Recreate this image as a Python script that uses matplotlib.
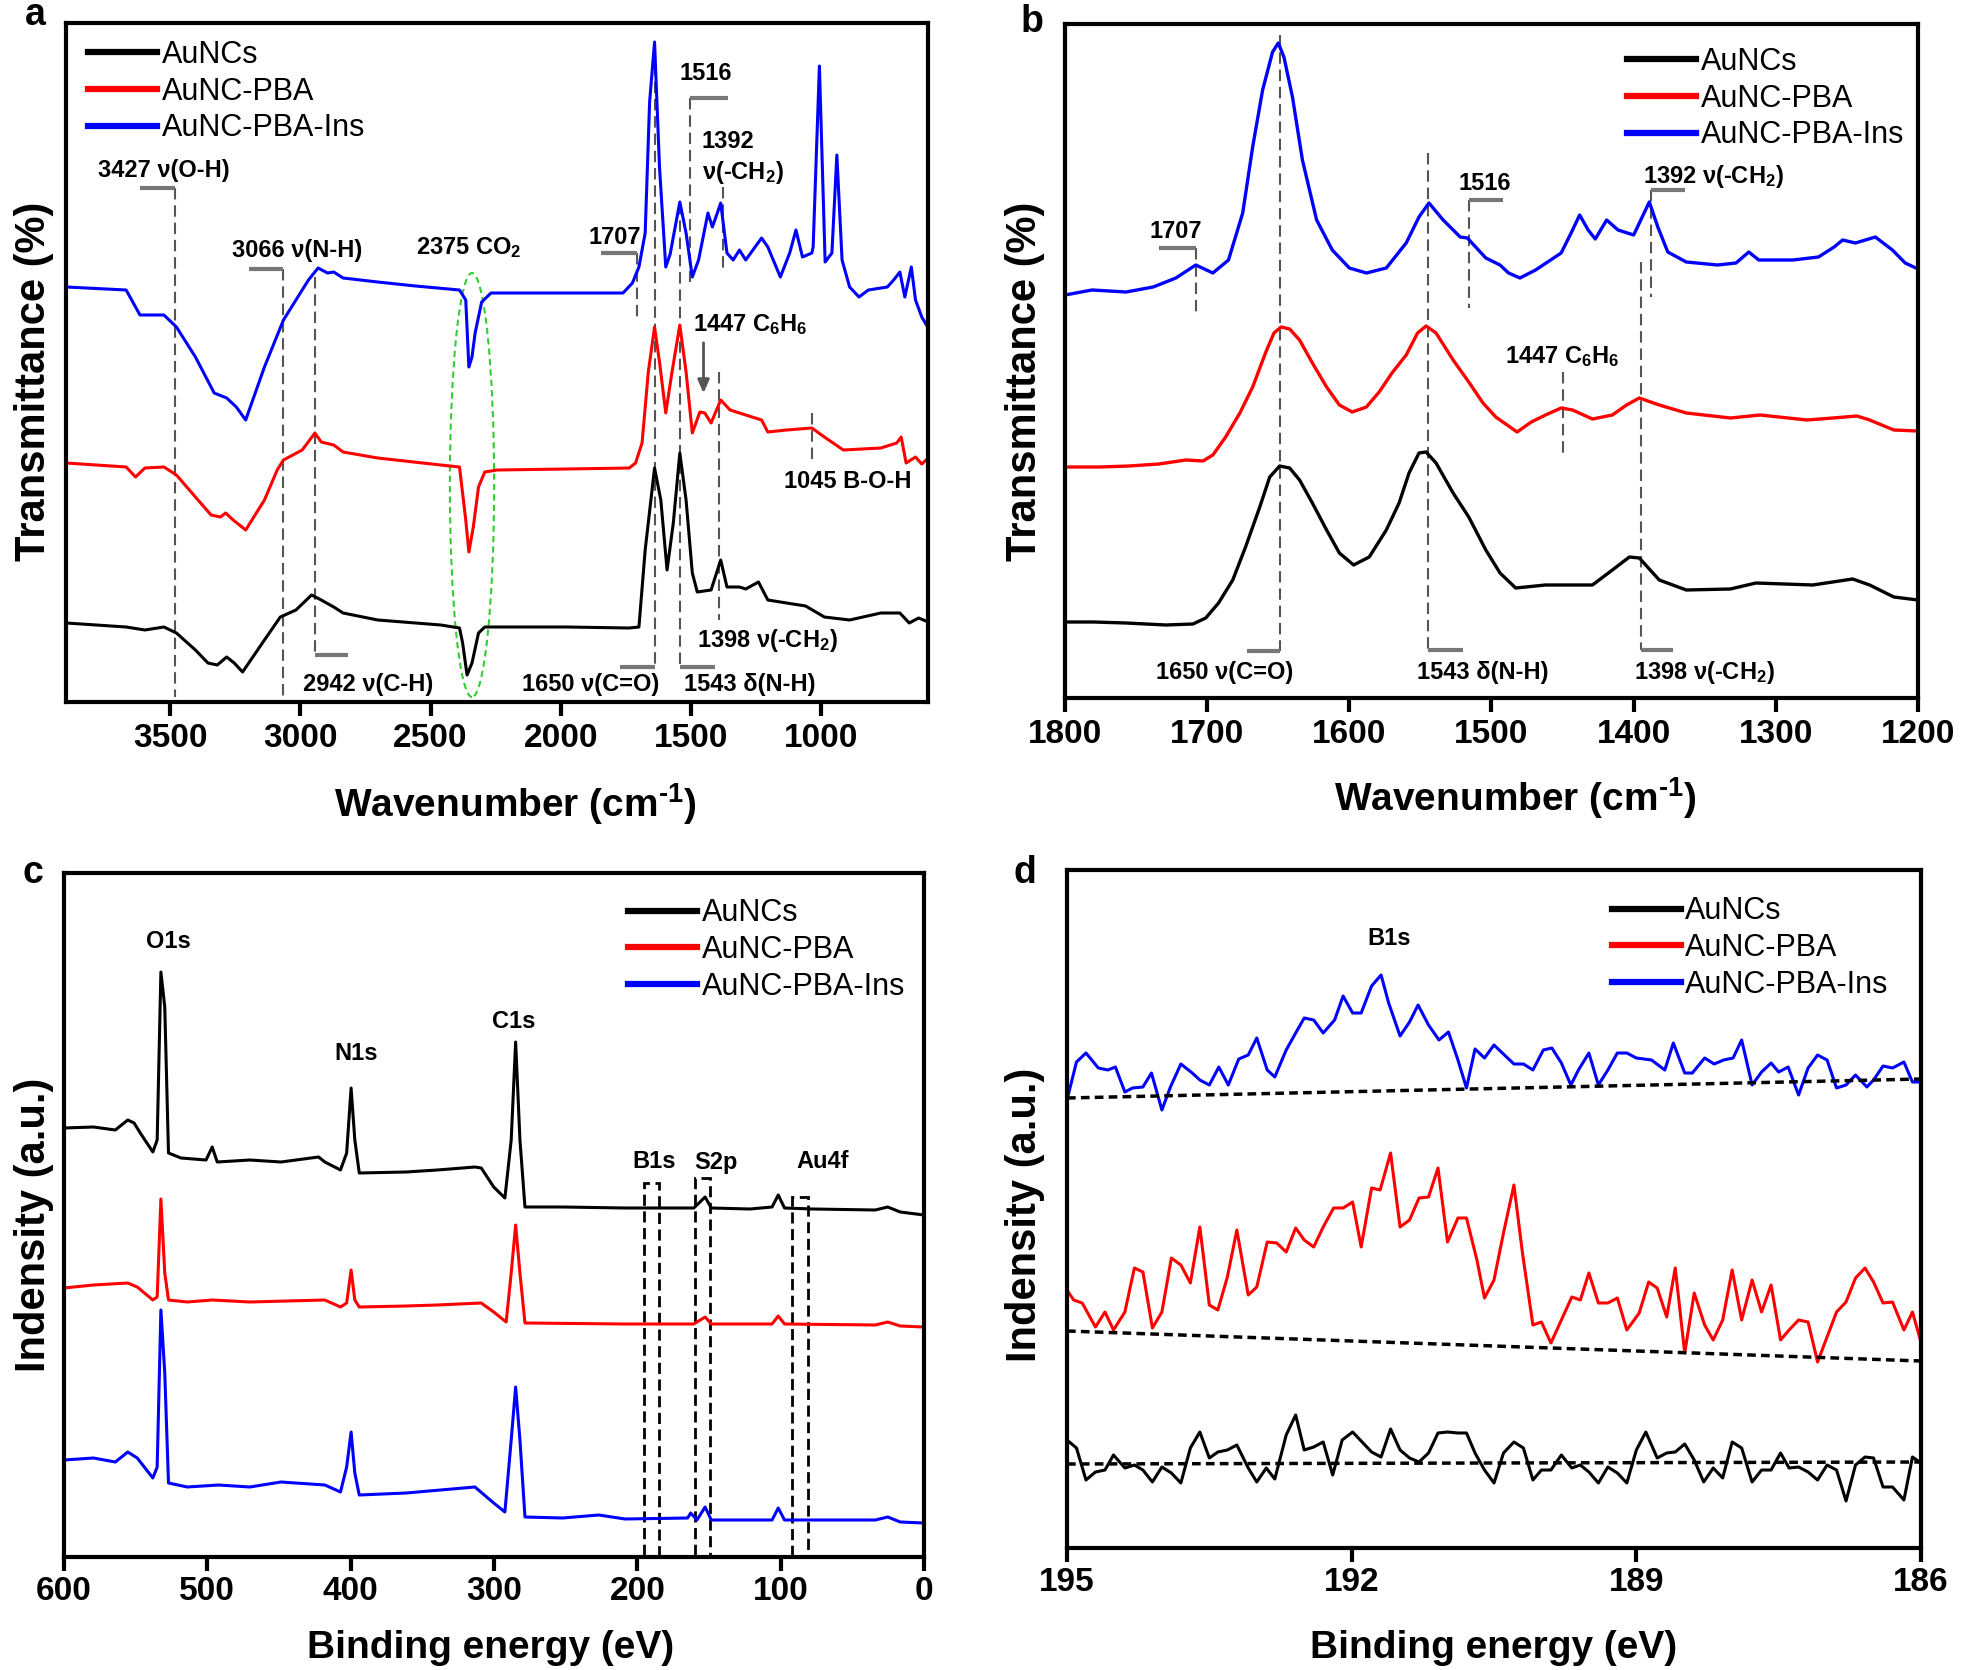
import numpy as np
import matplotlib.pyplot as plt
from matplotlib.patches import Ellipse, Rectangle

plt.rcParams['font.family'] = ['Liberation Sans', 'DejaVu Sans']
plt.rcParams['mathtext.fontset'] = 'custom'
plt.rcParams['mathtext.rm'] = 'Liberation Sans'
plt.rcParams['mathtext.bf'] = 'Liberation Sans:bold'
plt.rcParams['mathtext.it'] = 'Liberation Sans:italic'

names = ["AuNCs", "AuNC-PBA", "AuNC-PBA-Ins"]
colors = ["black", "#ff0000", "#0000ff"]

# ---- panel a: FTIR full range (offset transmittance, a.u.)
wn_a_black = [3899, 3669, 3597, 3524, 3476, 3403, 3355, 3319, 3283, 3254, 3222, 3138, 3077, 3017, 2957, 2920,
              2872, 2836, 2703, 2461, 2389, 2377, 2360, 2341, 2316, 2292, 2220, 1978, 1737, 1700, 1676, 1640,
              1616, 1592, 1568, 1543, 1519, 1495, 1476, 1423, 1386, 1362, 1314, 1290, 1241, 1205, 1133, 1060,
              988, 891, 771, 698, 662, 626, 589]
t_a_black = [79, 75, 72, 75, 69, 52, 39, 37, 45, 39, 30, 62, 85, 92, 107, 102, 95, 89, 82, 77, 74, 59, 27, 39,
             69, 75, 75, 75, 74, 75, 152, 234, 202, 132, 179, 249, 202, 129, 110, 112, 142, 115, 115, 113, 120,
             102, 99, 96, 85, 82, 89, 89, 79, 84, 80]
wn_a_red = [3899, 3669, 3633, 3597, 3524, 3476, 3403, 3343, 3307, 3287, 3258, 3210, 3138, 3089, 3065, 2993, 2944,
            2920, 2872, 2836, 2703, 2461, 2389, 2365, 2353, 2336, 2316, 2292, 2244, 1978, 1737, 1713, 1688, 1664,
            1640, 1621, 1597, 1573, 1543, 1519, 1495, 1466, 1447, 1423, 1386, 1350, 1302, 1229, 1205, 1133, 1036,
            988, 915, 771, 710, 693, 674, 638, 614, 589]
t_a_red = [239, 235, 225, 234, 235, 227, 205, 187, 185, 189, 182, 172, 202, 232, 242, 252, 269, 260, 257, 250,
           244, 237, 235, 182, 150, 175, 215, 230, 232, 233, 234, 239, 259, 330, 375, 340, 289, 330, 377, 330,
           269, 290, 289, 279, 302, 292, 288, 282, 270, 272, 274, 265, 252, 254, 259, 265, 239, 245, 238, 244]
wn_a_blue = [3899, 3669, 3633, 3616, 3524, 3476, 3403, 3331, 3283, 3246, 3210, 3138, 3065, 2969, 2932, 2896,
             2872, 2836, 2703, 2558, 2389, 2365, 2353, 2341, 2329, 2304, 2268, 1978, 1761, 1725, 1700, 1676,
             1659, 1640, 1621, 1597, 1580, 1543, 1519, 1495, 1471, 1435, 1418, 1399, 1386, 1362, 1338, 1314,
             1290, 1229, 1205, 1157, 1121, 1097, 1072, 1036, 1031, 1007, 985, 959, 940, 920, 891, 855, 819,
             746, 722, 698, 679, 654, 638, 614, 589]
t_a_blue = [415, 412, 395, 387, 387, 375, 345, 309, 304, 295, 282, 335, 382, 422, 434, 429, 430, 424, 420, 416,
            412, 402, 335, 345, 369, 400, 409, 409, 409, 419, 435, 469, 600, 660, 535, 435, 448, 500, 469, 425,
            442, 489, 475, 489, 499, 449, 442, 452, 442, 464, 455, 425, 449, 472, 445, 449, 455, 636, 440, 449,
            547, 442, 415, 405, 412, 415, 422, 430, 405, 435, 402, 385, 374]

# ---- panel b: FTIR 1800-1200
wn_b_black = [1800, 1780, 1757, 1729, 1710, 1701, 1692, 1682, 1673, 1663, 1656, 1649, 1642, 1635, 1626, 1616,
              1607, 1597, 1586, 1574, 1565, 1558, 1551, 1546, 1539, 1527, 1516, 1504, 1494, 1483, 1462, 1429,
              1415, 1403, 1396, 1382, 1363, 1332, 1314, 1274, 1246, 1234, 1217, 1200]
t_b_black = [76, 76, 75, 73, 74, 80, 95, 118, 151, 191, 221, 232, 230, 218, 195, 168, 145, 133, 141, 168,
             195, 225, 245, 246, 235, 205, 181, 148, 125, 110, 113, 113, 128, 141, 140, 118, 108, 109, 115, 113,
             119, 113, 101, 98]
wn_b_red = [1800, 1776, 1755, 1734, 1715, 1703, 1696, 1687, 1677, 1668, 1659, 1653, 1648, 1642, 1635, 1626, 1616,
            1607, 1598, 1588, 1579, 1570, 1560, 1552, 1546, 1539, 1527, 1516, 1506, 1497, 1482, 1472, 1462, 1451,
            1443, 1429, 1415, 1405, 1396, 1382, 1363, 1332, 1311, 1278, 1260, 1243, 1234, 1217, 1200]
t_b_red = [231, 231, 232, 234, 238, 237, 243, 261, 285, 311, 345, 365, 371, 369, 358, 335, 311, 293, 286, 291,
           306, 325, 343, 365, 372, 365, 338, 316, 295, 281, 266, 276, 283, 290, 288, 279, 283, 293, 300, 293,
           285, 280, 283, 278, 280, 282, 278, 268, 267]
wn_b_blue = [1800, 1781, 1757, 1738, 1722, 1708, 1696, 1685, 1675, 1668, 1661, 1654, 1650, 1646, 1640, 1633, 1623,
             1612, 1600, 1588, 1574, 1560, 1551, 1544, 1534, 1522, 1517, 1504, 1494, 1488, 1480, 1469, 1451,
             1444, 1438, 1432, 1427, 1419, 1411, 1400, 1394, 1389, 1383, 1376, 1363, 1341, 1328, 1319, 1312,
             1288, 1270, 1259, 1253, 1244, 1230, 1218, 1209, 1200]
t_b_blue = [403, 408, 406, 411, 420, 433, 425, 438, 485, 551, 608, 646, 655, 641, 601, 538, 478, 448, 430, 425,
            430, 455, 481, 495, 478, 461, 460, 440, 433, 425, 420, 428, 445, 465, 483, 468, 459, 478, 468, 463,
            481, 496, 471, 446, 436, 433, 435, 446, 438, 438, 441, 451, 458, 455, 461, 448, 435, 429]

# ---- panel c: XPS survey
be_c_black = [600, 579.5, 564.2, 555.5, 551.1, 546.8, 538.0, 535.0, 532.4, 529.7, 527.1, 518.4, 500.9, 496.6,
              493.1, 470.4, 448.6, 422.4, 418.0, 407.1, 402.8, 399.7, 397.1, 394.0, 361.3, 339.5, 313.3, 308.9,
              300.2, 292.4, 288.0, 284.9, 281.9, 278.4, 252.2, 208.6, 186.8, 160.6, 152.7, 148.4, 121.3, 106.0,
              101.7, 97.3, 77.7, 34.0, 25.3, 16.6, 0]
i_c_black = [429, 430, 427, 437, 434, 424, 405, 417, 585, 550, 404, 399, 397, 410, 395, 397, 395, 400, 395, 387,
             404, 469, 417, 384, 385, 387, 390, 389, 370, 359, 417, 515, 417, 350, 350, 349, 349, 349, 360, 349,
             348, 350, 362, 349, 348, 347, 350, 345, 342]
be_c_red = [600, 579.5, 555.5, 548.9, 538.0, 535.0, 532.4, 529.7, 527.1, 514.0, 496.6, 470.4, 418.0, 407.1, 402.8,
            399.7, 397.1, 394.0, 361.3, 339.5, 308.9, 300.2, 291.5, 288.0, 284.9, 281.9, 278.4, 208.6, 160.6,
            152.7, 148.4, 106.0, 101.7, 97.3, 34.0, 25.3, 16.6, 0]
i_c_red = [269, 272, 274, 270, 257, 260, 358, 284, 257, 255, 257, 255, 257, 250, 254, 287, 257, 250, 251, 252,
           254, 245, 235, 284, 332, 284, 234, 233, 233, 240, 233, 233, 241, 233, 232, 235, 231, 230]
be_c_blue = [600, 579.5, 564.2, 555.5, 548.9, 538.0, 535.0, 532.4, 529.7, 527.1, 514.0, 492.2, 470.4, 448.6,
             418.0, 407.1, 402.8, 399.7, 397.1, 394.0, 361.3, 313.3, 300.2, 292.4, 288.0, 284.9, 281.9, 278.4,
             252.2, 226.9, 208.6, 164.9, 162.8, 158.4, 152.7, 148.4, 106.0, 101.7, 97.3, 34.0, 25.3, 16.6, 0]
i_c_blue = [97, 99, 95, 105, 99, 79, 90, 247, 184, 74, 70, 72, 70, 75, 72, 65, 90, 125, 84, 62, 64, 70, 54, 45,
            117, 170, 117, 40, 39, 42, 38, 39, 44, 37, 50, 37, 37, 49, 37, 37, 40, 35, 34]

# ---- panel d: B1s high resolution
be_d_black = [195.00, 194.90, 194.80, 194.70, 194.60, 194.51, 194.39, 194.29, 194.20, 194.10, 194.00, 193.90,
              193.80, 193.70, 193.60, 193.50, 193.41, 193.31, 193.21, 193.09, 193.00, 192.90, 192.81, 192.69,
              192.59, 192.50, 192.40, 192.30, 192.20, 192.10, 191.99, 191.89, 191.79, 191.69, 191.59, 191.49,
              191.39, 191.29, 191.19, 191.09, 190.99, 190.88, 190.79, 190.70, 190.60, 190.50, 190.40, 190.29,
              190.19, 190.09, 190.00, 189.90, 189.79, 189.68, 189.59, 189.50, 189.40, 189.30, 189.20, 189.10,
              189.00, 188.90, 188.78, 188.68, 188.59, 188.49, 188.39, 188.29, 188.19, 188.09, 187.99, 187.89,
              187.78, 187.68, 187.58, 187.48, 187.39, 187.29, 187.19, 187.09, 186.99, 186.89, 186.79, 186.69,
              186.59, 186.50, 186.40, 186.30, 186.18, 186.09, 186.00]
i_d_black = [108, 100, 68, 76, 78, 93, 80, 83, 78, 66, 81, 75, 65, 100, 116, 90, 96, 98, 103, 80,
             66, 80, 69, 113, 133, 98, 101, 106, 73, 108, 116, 106, 96, 91, 119, 98, 90, 86, 95, 115,
             116, 115, 115, 95, 78, 65, 95, 106, 100, 68, 78, 78, 93, 80, 83, 76, 65, 81, 75, 65,
             98, 116, 90, 95, 96, 104, 88, 66, 80, 70, 106, 100, 66, 78, 78, 95, 80, 81, 76, 68,
             83, 78, 47, 83, 91, 90, 61, 61, 48, 91, 85]
be_d_red = [195.00, 194.93, 194.84, 194.70, 194.60, 194.51, 194.39, 194.29, 194.20, 194.10, 194.00, 193.90,
            193.80, 193.70, 193.60, 193.50, 193.41, 193.31, 193.21, 193.09, 193.00, 192.89, 192.79, 192.69,
            192.59, 192.50, 192.40, 192.30, 192.19, 192.09, 191.99, 191.90, 191.79, 191.70, 191.59, 191.49,
            191.39, 191.29, 191.19, 191.09, 190.99, 190.88, 190.79, 190.68, 190.60, 190.50, 190.40, 190.29,
            190.20, 190.09, 190.00, 189.90, 189.79, 189.68, 189.59, 189.50, 189.40, 189.30, 189.20, 189.10,
            188.97, 188.87, 188.78, 188.68, 188.59, 188.49, 188.39, 188.28, 188.19, 188.09, 187.99, 187.89,
            187.78, 187.68, 187.58, 187.48, 187.39, 187.29, 187.19, 187.09, 186.99, 186.89, 186.79, 186.69,
            186.59, 186.50, 186.40, 186.30, 186.18, 186.09, 186.00]
i_d_red = [258, 248, 245, 221, 236, 218, 236, 280, 276, 220, 236, 290, 283, 265, 321, 243, 238, 271, 318, 253,
           261, 306, 305, 296, 320, 308, 301, 321, 340, 340, 346, 301, 360, 358, 395, 321, 328, 350, 351, 380,
           306, 330, 330, 288, 250, 268, 315, 363, 295, 223, 226, 205, 228, 251, 248, 275, 245, 245, 250, 218,
           235, 266, 260, 231, 280, 195, 255, 223, 208, 228, 278, 228, 268, 236, 263, 208, 218, 228, 226, 186,
           211, 236, 246, 270, 280, 266, 245, 246, 218, 236, 206]
be_d_blue = [195.00, 194.90, 194.80, 194.67, 194.57, 194.49, 194.39, 194.31, 194.20, 194.11, 194.00, 193.91,
             193.80, 193.68, 193.60, 193.50, 193.40, 193.30, 193.19, 193.09, 193.00, 192.89, 192.81, 192.69,
             192.59, 192.50, 192.40, 192.30, 192.18, 192.09, 191.99, 191.90, 191.79, 191.69, 191.61, 191.49,
             191.39, 191.30, 191.19, 191.08, 190.98, 190.88, 190.79, 190.70, 190.60, 190.50, 190.39, 190.29,
             190.19, 190.09, 189.98, 189.89, 189.79, 189.69, 189.61, 189.50, 189.40, 189.30, 189.20, 189.10,
             189.00, 188.84, 188.70, 188.61, 188.49, 188.41, 188.28, 188.18, 188.08, 187.98, 187.89, 187.78,
             187.68, 187.58, 187.50, 187.40, 187.29, 187.19, 187.09, 186.99, 186.89, 186.79, 186.69, 186.57,
             186.50, 186.40, 186.30, 186.18, 186.09, 186.00]
i_d_blue = [448, 486, 495, 480, 478, 481, 456, 460, 461, 475, 438, 461, 484, 475, 468, 463, 481, 463, 489, 493,
            510, 478, 471, 498, 515, 530, 528, 515, 528, 552, 535, 535, 562, 573, 545, 512, 526, 543, 523, 508,
            516, 488, 460, 499, 490, 503, 493, 484, 484, 478, 498, 500, 485, 463, 478, 495, 463, 478, 495, 495,
            490, 488, 478, 505, 475, 475, 490, 484, 488, 490, 508, 463, 476, 485, 476, 481, 453, 480, 493, 488,
            460, 463, 473, 461, 468, 482, 480, 486, 466, 466]
base_d_x = [195, 186]
base_d_black = [84, 86]
base_d_red = [217, 187]
base_d_blue = [450, 469]

ticks_a = [3500, 3000, 2500, 2000, 1500, 1000]
ticks_b = [1800, 1700, 1600, 1500, 1400, 1300, 1200]
ticks_c = [600, 500, 400, 300, 200, 100, 0]
ticks_d = [195, 192, 189, 186]

W, H = 1961, 1670
fig = plt.figure(figsize=(W / 100, H / 100), dpi=100)


def box(l, t, r, b):
    return [l / W, 1 - b / H, (r - l) / W, (b - t) / H]


def style(ax, xlim, ylim, ticks, pad=5):
    ax.set_xlim(xlim)
    ax.set_ylim(ylim)
    ax.set_xticks(ticks)
    ax.set_xticklabels([str(t) for t in ticks], fontsize=24, fontweight="bold")
    ax.set_yticks([])
    for s in ax.spines.values():
        s.set_linewidth(3)
    ax.tick_params(axis="x", direction="out", length=10, width=3, pad=pad)


def legend(ax, anchor):
    leg = ax.legend(loc="upper left", bbox_to_anchor=anchor, frameon=False, fontsize=22,
                    handlelength=2.25, handletextpad=0.15, labelspacing=0.22,
                    borderpad=0, borderaxespad=0)
    for ln in leg.get_lines():
        ln.set_linewidth(4.5)


def mark(ax, x, y0, y1):
    ax.plot([x, x], [y0, y1], color="#555555", lw=1.5, ls=(0, (5.5, 2.8)), zorder=1)


def bracket(ax, x0, x1, y):
    ax.plot([x0, x1], [y, y], color="#777777", lw=3, solid_capstyle="butt", zorder=1)


def label(ax, x, y, s, size=17):
    ax.text(x, y, s, ha="center", va="center", fontsize=size, fontweight="bold")


# ---------------- a
ax = fig.add_axes(box(66, 23, 928, 702))
ax.plot(wn_a_black, t_a_black, color=colors[0], lw=2.2, label=names[0])
ax.plot(wn_a_red, t_a_red, color=colors[1], lw=2.2, label=names[1])
ax.plot(wn_a_blue, t_a_blue, color=colors[2], lw=2.2, label=names[2])
style(ax, (3900, 590), (0, 679), ticks_a)
legend(ax, (0.026, 0.975))
mark(ax, 3481, 514, 5); bracket(ax, 3616, 3481, 514); label(ax, 3524, 532, "3427 ν(O-H)")
mark(ax, 3065, 433, 5); bracket(ax, 3198, 3065, 433); label(ax, 3012, 452, "3066 ν(N-H)")
mark(ax, 2944, 425, 47); bracket(ax, 2944, 2816, 47); label(ax, 2739, 17, "2942 ν(C-H)")
label(ax, 2353, 454, "2375 CO$_\\mathbf{2}$")
ax.add_patch(Ellipse((2341, 217), 170, 424, fill=False, ec="#33cc33", lw=1.5, ls=(0, (3, 2))))
mark(ax, 1708, 449, 382); bracket(ax, 1845, 1708, 449); label(ax, 1792, 465, "1707")
mark(ax, 1502, 604, 420); bracket(ax, 1502, 1357, 604); label(ax, 1442, 629, "1516")
mark(ax, 1379, 515, 432); label(ax, 1357, 560, "1392"); label(ax, 1302, 529, "ν(-CH$_\\mathbf{2}$)")
mark(ax, 1640, 655, 35); bracket(ax, 1773, 1640, 35); label(ax, 1886, 17, "1650 ν(C=O)")
mark(ax, 1543, 499, 35); bracket(ax, 1543, 1406, 35); label(ax, 1273, 17, "1543 δ(N-H)")
label(ax, 1273, 377, "1447 C$_\\mathbf{6}$H$_\\mathbf{6}$")
ax.annotate("", xy=(1452, 306), xytext=(1452, 362),
            arrowprops=dict(arrowstyle="-|>,head_width=0.35,head_length=0.8", color="#555555", lw=2))
mark(ax, 1391, 330, 82); label(ax, 1205, 62, "1398 ν(-CH$_\\mathbf{2}$)")
mark(ax, 1036, 289, 239); label(ax, 898, 220, "1045 B-O-H")

# ---------------- b
ax = fig.add_axes(box(1065, 24, 1918, 698))
ax.plot(wn_b_black, t_b_black, color=colors[0], lw=2.4, label=names[0])
ax.plot(wn_b_red, t_b_red, color=colors[1], lw=2.4, label=names[1])
ax.plot(wn_b_blue, t_b_blue, color=colors[2], lw=2.4, label=names[2])
style(ax, (1800, 1200), (0, 674), ticks_b)
legend(ax, (0.659, 0.966))
mark(ax, 1649, 663, 47); bracket(ax, 1672, 1649, 47); label(ax, 1688, 25, "1650 ν(C=O)")
mark(ax, 1545, 545, 48); bracket(ax, 1545, 1520, 48); label(ax, 1506, 25, "1543 δ(N-H)")
mark(ax, 1395, 436, 48); bracket(ax, 1395, 1372, 48); label(ax, 1350, 25, "1398 ν(-CH$_\\mathbf{2}$)")
mark(ax, 1708, 450, 383); bracket(ax, 1734, 1708, 450); label(ax, 1722, 466, "1707")
mark(ax, 1516, 498, 390); bracket(ax, 1516, 1492, 498); label(ax, 1505, 514, "1516")
mark(ax, 1388, 508, 401); bracket(ax, 1388, 1364, 508); label(ax, 1344, 521, "1392 ν(-CH$_\\mathbf{2}$)")
mark(ax, 1450, 326, 243); label(ax, 1450, 341, "1447 C$_\\mathbf{6}$H$_\\mathbf{6}$")

# ---------------- c
ax = fig.add_axes(box(64, 873, 924, 1557))
ax.plot(be_c_black, i_c_black, color=colors[0], lw=2.2, label=names[0])
ax.plot(be_c_red, i_c_red, color=colors[1], lw=2.2, label=names[1])
ax.plot(be_c_blue, i_c_blue, color=colors[2], lw=2.2, label=names[2])
style(ax, (600, 0), (0, 684), ticks_c, pad=4)
legend(ax, (0.656, 0.963))
label(ax, 527, 615, "O1s")
label(ax, 396, 504, "N1s")
label(ax, 286, 535, "C1s")
label(ax, 188, 395, "B1s")
label(ax, 145, 395, "S2p")
label(ax, 71, 395, "Au4f")
for x0, x1, top in [(185, 195, 374), (149, 160, 379), (81, 92, 360)]:
    ax.add_patch(Rectangle((x0, 0), x1 - x0, top, fill=False, ec="black", lw=2, ls=(0, (4, 2))))

# ---------------- d
ax = fig.add_axes(box(1067, 870, 1921, 1548))
ax.plot(be_d_black, i_d_black, color=colors[0], lw=2.2, label=names[0])
ax.plot(be_d_red, i_d_red, color=colors[1], lw=2.2, label=names[1])
ax.plot(be_d_blue, i_d_blue, color=colors[2], lw=2.2, label=names[2])
for base in [base_d_black, base_d_red, base_d_blue]:
    ax.plot(base_d_x, base, color="black", lw=2.5, ls=(0, (2.5, 1.5)))
style(ax, (195, 186), (0, 678), ticks_d, pad=4)
legend(ax, (0.638, 0.961))
label(ax, 191.6, 609, "B1s")

# ---------------- axis titles and panel letters
fig.text(34 / W, 1 - 381 / H, "Transmittance (%)", rotation=90, ha="center", va="center",
         fontsize=30, fontweight="bold")
fig.text(1025 / W, 1 - 381 / H, "Transmittance (%)", rotation=90, ha="center", va="center",
         fontsize=30, fontweight="bold")
fig.text(34 / W, 1 - 1225 / H, "Indensity (a.u.)", rotation=90, ha="center", va="center",
         fontsize=30, fontweight="bold")
fig.text(1025 / W, 1 - 1215 / H, "Indensity (a.u.)", rotation=90, ha="center", va="center",
         fontsize=30, fontweight="bold")
wn_title = "Wavenumber (cm$^{\\mathbf{\u00ad1}}$)"
fig.text(515 / W, 1 - 804 / H, wn_title, ha="center", va="center", fontsize=28, fontweight="bold")
fig.text(1515 / W, 1 - 798 / H, wn_title, ha="center", va="center", fontsize=28, fontweight="bold")
fig.text(491 / W, 1 - 1648 / H, "Binding energy (eV)", ha="center", va="center",
         fontsize=28, fontweight="bold")
fig.text(1494 / W, 1 - 1648 / H, "Binding energy (eV)", ha="center", va="center",
         fontsize=28, fontweight="bold")
for s, x, y in [("a", 25, 25), ("b", 1021, 32), ("c", 22, 883), ("d", 1014, 883)]:
    fig.text(x / W, 1 - y / H, s, ha="left", va="baseline", fontsize=27, fontweight="bold")

fig.savefig("out.png", dpi=100)
